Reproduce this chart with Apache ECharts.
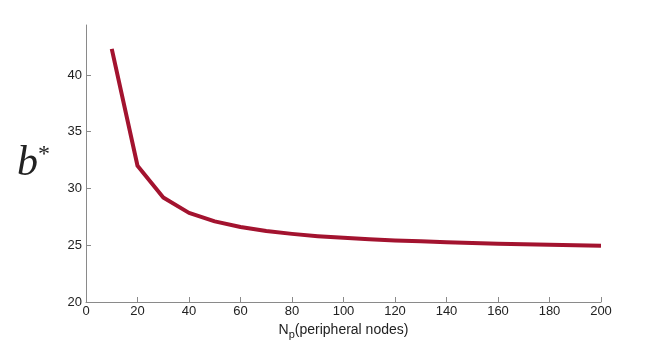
<!DOCTYPE html>
<html><head><meta charset="utf-8">
<script src="https://cdn.jsdelivr.net/npm/echarts@6/dist/echarts.min.js"></script>
<style>html,body{margin:0;padding:0;background:#fff}#c{width:665px;height:341px}</style>
</head><body><div id="c"></div>
<script>
const xValues = [10,20,30,40,50,60,70,80,90,100,110,120,130,140,150,160,170,180,190,200];
const bStar = [42.3,32.0,29.2,27.85,27.1,26.6,26.25,26.0,25.8,25.65,25.52,25.42,25.35,25.27,25.2,25.14,25.09,25.04,25.0,24.95];
const xTicks = [0,20,40,60,80,100,120,140,160,180,200];
const yTicks = [20,25,30,35,40];

const chart = echarts.init(document.getElementById('c'), null, {renderer:'canvas'});
const axisStyle = {lineStyle:{color:'#8a8a8a', width:1}};
chart.setOption({
  animation:false,
  grid:{left:86, right:64, top:25, bottom:39, containLabel:false, outerBoundsMode:'none'},
  xAxis:{
    type:'value', min:0, max:200, interval:20,
    axisLine:{show:true, onZero:false, ...axisStyle},
    axisTick:{show:true, inside:true, length:5, ...axisStyle},
    splitLine:{show:false},
    axisLabel:{color:'#222', fontSize:13, fontFamily:'Liberation Sans', margin:3,
      formatter:v => xTicks.includes(v) ? String(v) : ''},
    name:'{n|N}{s|p}{n|(peripheral nodes)}',
    nameLocation:'middle', nameGap:18,
    nameTextStyle:{rich:{
      n:{fontSize:14, fontFamily:'Liberation Sans', color:'#222'},
      s:{fontSize:11, fontFamily:'Liberation Sans', color:'#222', verticalAlign:'top', padding:[9,0,0,0]}
    }}
  },
  yAxis:{
    type:'value', min:20, max:44.4, interval:5,
    axisLine:{show:true, ...axisStyle},
    axisTick:{show:true, inside:true, length:5, ...axisStyle},
    splitLine:{show:false},
    axisLabel:{color:'#222', fontSize:13, fontFamily:'Liberation Sans', margin:4, showMaxLabel:false,
      formatter:v => yTicks.includes(v) ? String(v) : ''},
    name:'{b|b}{st|*}',
    nameLocation:'middle', nameGap:36, nameRotate:0,
    nameTextStyle:{rich:{
      b:{fontSize:42, fontFamily:'Liberation Serif', fontStyle:'italic', color:'#222'},
      st:{fontSize:24, fontFamily:'Liberation Serif', color:'#222', verticalAlign:'top', padding:[0,0,16,0]}
    }}
  },
  series:[{
    type:'line',
    data:xValues.map((x,i)=>[x,bStar[i]]),
    showSymbol:false, symbol:'none',
    lineStyle:{color:'#A3132F', width:4, join:'round'},
    itemStyle:{color:'#A3132F'}
  }]
});
</script></body></html>
